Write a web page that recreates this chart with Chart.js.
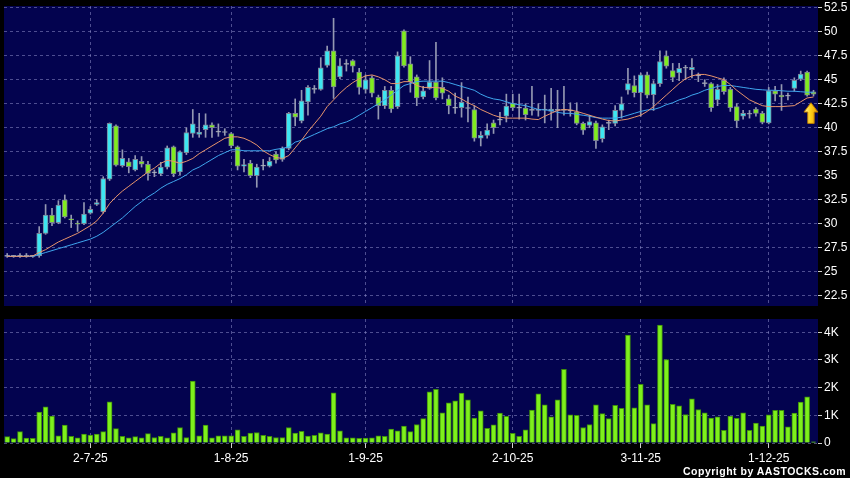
<!DOCTYPE html>
<html>
<head>
<meta charset="utf-8">
<script src="https://cdn.jsdelivr.net/npm/chart.js@4.4.1/dist/chart.umd.min.js"></script>
<style>
  body { margin: 0; background: #000; width: 850px; height: 478px; overflow: hidden; position: relative; }
  #priceBox { position: absolute; left: 0; top: 0; width: 850px; height: 312px; }
  #volBox { position: absolute; left: 0; top: 312px; width: 850px; height: 166px; }
  #copy { position: absolute; left: 683px; top: 465px; color: #fff; font: bold 10.5px "Liberation Sans", Arial, sans-serif; letter-spacing: 0.5px; white-space: nowrap; }
</style>
</head>
<body>
<div id="priceBox"><canvas id="priceChart"></canvas></div>
<div id="volBox"><canvas id="volChart"></canvas></div>
<div id="copy">Copyright by AASTOCKS.com Ltd.</div>
<script>
// daily candles (one value per trading day)
var opens = [26.6,26.6,26.6,26.6,26.6,26.64,29.0,30.9,30.1,32.5,30.45,30.0,30.0,31.1,32.0,31.25,34.65,40.2,36.05,36.45,
  35.6,36.5,36.2,35.3,35.2,35.9,38.0,35.4,37.4,39.4,39.3,39.8,40.3,39.55,39.5,39.4,38.0,36.0,36.3,35.0,
  36.0,36.0,37.25,36.7,37.85,41.5,40.7,42.7,44.0,44.0,46.5,48.0,45.3,46.6,47.0,45.8,44.0,45.2,43.2,42.3,
  43.9,42.2,50.1,46.65,45.3,43.2,44.1,44.75,44.2,43.0,42.05,42.1,42.0,41.9,38.9,39.2,40.5,40.8,41.2,42.55,
  42.05,42.05,41.8,41.8,41.85,41.7,41.8,41.8,41.75,41.65,40.45,40.25,40.5,38.85,40.45,40.45,41.8,43.9,44.4,43.65,
  45.5,43.45,44.6,47.5,45.95,45.7,46.2,46.05,45.4,44.6,44.6,42.9,44.95,44.0,42.2,41.2,41.4,41.95,41.5,40.5,
  43.85,43.4,43.3,44.1,45.05,45.8,43.75]
var highs = [26.9,26.7,26.9,26.9,26.7,29.7,32.0,31.6,32.4,33.0,30.9,30.3,32.2,31.8,32.5,34.9,40.5,40.3,37.7,36.8,
  37.1,37.0,36.5,35.6,36.4,38.1,38.1,37.6,40.0,41.9,41.5,41.45,40.5,40.4,39.9,39.5,38.1,36.7,36.6,36.2,
  36.7,36.9,37.5,38.0,41.6,43.0,43.9,44.4,44.4,47.3,48.5,51.4,47.2,47.1,47.1,46.2,45.5,45.4,43.4,44.3,
  44.3,47.9,50.2,47.4,45.5,44.3,47.0,48.9,45.2,43.4,43.6,44.7,43.2,42.3,39.6,40.4,40.8,41.6,43.5,43.5,
  43.5,42.5,44.3,42.5,43.4,44.1,43.9,44.3,42.6,42.6,40.6,41.3,40.7,40.3,40.8,42.3,43.2,46.2,45.4,45.7,
  45.8,44.9,48.0,48.0,46.7,46.7,46.5,47.2,45.7,45.0,44.7,44.5,45.2,44.2,42.5,41.8,41.8,42.1,41.7,44.2,
  44.3,44.5,43.6,45.2,45.9,45.9,43.9]
var lows = [26.5,26.5,26.5,26.5,26.5,26.5,28.9,29.8,30.0,30.6,29.6,29.2,29.9,31.0,31.9,31.1,34.5,36.0,35.9,35.3,
  35.5,35.9,34.55,34.9,35.0,35.7,34.9,35.1,37.2,39.0,39.0,39.0,39.0,39.1,39.2,37.9,35.6,35.4,34.8,33.8,
  35.6,35.9,36.3,36.5,37.7,40.2,40.5,41.3,43.6,43.9,46.3,43.05,45.1,45.9,45.8,43.5,43.6,43.2,40.9,42.0,
  41.6,42.0,46.3,43.7,42.3,43.0,44.0,42.9,43.0,41.45,41.5,41.1,40.6,38.6,38.1,38.9,39.4,40.3,40.6,41.8,
  40.9,40.8,41.3,41.2,40.5,40.8,40.0,41.3,41.2,40.3,39.3,40.0,37.85,38.5,39.8,40.2,41.0,43.5,43.2,41.2,
  43.1,41.8,44.3,46.2,44.8,44.9,45.0,45.2,44.8,44.3,41.7,42.3,43.5,41.7,40.0,40.9,41.0,41.2,40.4,40.4,
  42.8,41.8,42.9,43.8,44.9,43.3,43.3]
var closes = [26.6,26.6,26.6,26.6,26.6,29.0,30.9,30.1,31.95,30.7,30.4,29.95,31.0,31.5,32.2,34.7,40.45,36.1,36.8,35.95,
  36.7,36.2,35.25,35.3,35.9,37.9,35.2,37.5,39.5,40.4,39.55,40.3,40.0,39.55,39.5,38.1,36.0,36.15,35.0,35.9,
  36.0,36.5,36.65,37.85,41.5,41.1,42.8,44.2,44.0,46.25,48.0,44.25,46.45,46.6,46.4,44.2,45.0,43.6,42.3,43.9,
  41.95,47.5,46.45,44.8,43.1,43.85,44.75,43.1,43.6,42.3,42.05,42.65,42.0,38.9,39.2,39.75,40.0,40.8,42.25,42.1,
  42.05,41.35,41.8,41.8,41.85,41.95,41.8,41.8,41.75,40.45,39.75,40.65,38.65,40.1,40.45,41.8,42.5,44.6,43.65,45.5,
  43.4,44.6,46.9,46.4,45.25,46.2,46.2,46.3,45.4,44.6,42.1,44.0,43.75,42.1,40.7,41.5,41.4,41.5,40.55,43.85,
  43.5,43.2,43.3,44.95,45.6,43.4,43.5]
// volume in thousands
var volumes = [0.23,0.16,0.41,0.18,0.17,1.12,1.31,0.97,0.26,0.65,0.24,0.19,0.32,0.29,0.32,0.41,1.49,0.52,0.24,0.19,
  0.23,0.19,0.34,0.2,0.24,0.19,0.37,0.56,0.2,2.24,0.26,0.65,0.19,0.26,0.26,0.26,0.48,0.24,0.36,0.38,
  0.28,0.24,0.2,0.2,0.56,0.36,0.42,0.25,0.28,0.37,0.32,1.81,0.44,0.19,0.19,0.17,0.18,0.19,0.26,0.24,
  0.5,0.44,0.61,0.41,0.67,0.88,1.85,1.94,1.09,1.45,1.52,1.8,1.56,0.9,1.16,0.53,0.66,1.08,0.96,0.35,
  0.24,0.48,1.19,1.78,1.38,0.95,1.56,2.66,1.02,1.0,0.56,0.67,1.38,1.06,0.88,1.36,1.25,3.9,1.27,2.12,
  1.38,0.7,4.26,3.01,1.4,1.34,1.03,1.6,1.21,1.09,0.9,0.95,0.46,0.97,0.89,1.09,0.46,0.72,0.61,1.02,
  1.18,1.18,0.58,1.08,1.48,1.67,0.04]
// moving averages as drawn (short = orange, long = blue)
var maShort = [26.6,26.6,26.6,26.6,26.65,27.0,27.3,27.7,28.1,28.4,28.7,29.0,29.4,29.8,30.3,31.1,32.1,32.8,33.4,33.9,
  34.4,34.9,35.4,35.8,36.3,36.6,36.5,36.3,36.5,36.8,37.3,37.7,38.1,38.5,38.9,39.05,39.05,38.9,38.6,38.2,
  37.6,37.2,36.9,36.8,37.1,37.9,38.7,39.6,40.4,41.2,42.2,42.9,43.6,44.2,44.7,45.1,45.4,45.5,45.3,45.0,
  44.6,44.6,44.8,44.8,44.4,44.2,44.2,44.2,44.1,43.8,43.3,43.0,42.6,42.3,41.9,41.6,41.3,41.1,41.0,41.0,
  41.0,41.0,40.9,40.85,41.2,41.5,41.8,41.9,41.85,41.7,41.5,41.3,41.1,40.9,40.75,40.7,40.8,40.9,41.1,41.3,
  41.7,42.2,42.8,43.4,44.0,44.6,45.1,45.4,45.55,45.55,45.4,45.2,45.0,44.5,43.9,43.4,42.9,42.6,42.3,42.2,
  42.2,42.2,42.25,42.3,42.7,43.1,43.2]
var maLong = [26.6,26.6,26.6,26.6,26.6,26.8,27.0,27.2,27.4,27.6,27.8,28.0,28.2,28.4,28.7,29.1,29.6,30.1,30.6,31.2,
  31.8,32.3,32.8,33.2,33.7,34.1,34.4,34.7,35.1,35.6,35.9,36.3,36.7,37.1,37.4,37.7,37.7,37.6,37.6,37.6,
  37.6,37.6,37.75,37.85,38.0,38.5,38.7,39.0,39.3,39.6,39.9,40.1,40.4,40.6,40.9,41.3,41.7,42.1,42.5,42.9,
  43.4,43.9,44.4,44.6,44.8,44.85,44.85,44.85,44.85,44.7,44.5,44.3,44.1,43.9,43.5,43.2,43.0,42.9,42.7,42.5,
  42.4,42.3,42.1,41.9,41.85,41.8,41.6,41.5,41.5,41.4,41.3,41.2,41.05,41.0,41.0,41.0,41.1,41.3,41.5,41.7,
  41.85,41.9,42.1,42.4,42.6,42.9,43.1,43.4,43.6,43.9,44.1,44.3,44.4,44.4,44.3,44.2,44.1,44.0,43.95,43.9,
  43.9,43.85,43.8,43.8,43.75,43.7,43.7]

var tickIdx = [13, 35, 56, 79, 99, 119]
var tickText = ['2-7-25', '1-8-25', '1-9-25', '2-10-25', '3-11-25', '1-12-25']
var priceTicks = [22.5, 25, 27.5, 30, 32.5, 35, 37.5, 40, 42.5, 45, 47.5, 50, 52.5]
var volTicks = [0, 1, 2, 3, 4]
// marker arrow under the last candles (x in bar index, y in price)
var arrowMark = { x: 125.6, top: 42.6, bottom: 40.45 }

var upColor = '#3de6f2'
var downColor = '#80ec1e'
var flatColor = '#b4b8c8'
var gridColor = 'rgba(140,140,200,0.55)'
var fontFamily = '"Liberation Sans", Arial, sans-serif'

// colour of each body
var bodyColors = opens.map(function(o, i) {
  if (closes[i] > o) return upColor
  if (closes[i] < o) return downColor
  return flatColor
})

// navy fill behind the plotting area
var panelBg = {
  id: 'panelBg',
  beforeDraw: function(chart) {
    var a = chart.chartArea
    var ctx = chart.ctx
    ctx.save()
    ctx.fillStyle = '#03034f'
    ctx.fillRect(a.left, a.top, a.right - a.left, a.bottom - a.top)
    ctx.restore()
  }
}

// yellow up arrow
var arrowPlugin = {
  id: 'arrowPlugin',
  afterDatasetsDraw: function(chart) {
    var xs = chart.scales.x, ys = chart.scales.y, ctx = chart.ctx
    var cx = xs.getPixelForValue(arrowMark.x)
    var yt = ys.getPixelForValue(arrowMark.top)
    var yb = ys.getPixelForValue(arrowMark.bottom)
    var headH = (yb - yt) * 0.45
    var hw = 7, sw = 3.2
    ctx.save()
    var g = ctx.createLinearGradient(cx - hw, 0, cx + hw, 0)
    g.addColorStop(0, '#fff7a8')
    g.addColorStop(0.45, '#ffd21a')
    g.addColorStop(1, '#e89a00')
    ctx.beginPath()
    ctx.moveTo(cx, yt)
    ctx.lineTo(cx + hw, yt + headH)
    ctx.lineTo(cx + sw, yt + headH)
    ctx.lineTo(cx + sw, yb)
    ctx.lineTo(cx - sw, yb)
    ctx.lineTo(cx - sw, yt + headH)
    ctx.lineTo(cx - hw, yt + headH)
    ctx.closePath()
    ctx.fillStyle = g
    ctx.fill()
    ctx.strokeStyle = '#b87800'
    ctx.lineWidth = 1
    ctx.stroke()
    ctx.restore()
  }
}

function setTicks(list) {
  return function(scale) {
    scale.ticks = list.map(function(v) { return { value: v } })
  }
}

// fixed width for the right axis, no extra room for half labels
function fitRightAxis(s) {
  s.width = 32
  s.paddingTop = 0
  s.paddingBottom = 0
}

// price panel
new Chart(document.getElementById('priceChart'), {
  type: 'bar',
  data: {
    datasets: [
      {
        type: 'line', order: 0,
        data: maShort.map(function(v, i) { return { x: i, y: v } }),
        borderColor: '#e8946c', borderWidth: 1, pointRadius: 0, tension: 0
      },
      {
        type: 'line', order: 0,
        data: maLong.map(function(v, i) { return { x: i, y: v } }),
        borderColor: '#3fa6ee', borderWidth: 1, pointRadius: 0, tension: 0
      },
      {
        order: 1, grouped: false,
        data: opens.map(function(o, i) { return { x: i, y: [o, closes[i]] } }),
        backgroundColor: bodyColors,
        borderColor: '#7c8296', borderWidth: 1, borderSkipped: false,
        barThickness: 5, minBarLength: 1
      },
      {
        order: 2, grouped: false,
        data: lows.map(function(l, i) { return { x: i, y: [l, highs[i]] } }),
        backgroundColor: '#9498b2',
        barThickness: 1
      }
    ]
  },
  options: {
    responsive: true,
    maintainAspectRatio: false,
    animation: false,
    layout: { padding: { left: 4, top: 6, right: 0, bottom: 6 } },
    plugins: { legend: { display: false }, tooltip: { enabled: false } },
    scales: {
      x: {
        type: 'linear', min: -0.5, max: 126.7, offset: false,
        afterBuildTicks: setTicks(tickIdx),
        afterFit: function(s) { s.height = 0; s.paddingLeft = 0; s.paddingRight = 0 },
        ticks: { display: false },
        grid: { color: gridColor, drawTicks: false, offset: false },
        border: { display: false, dash: [3, 3] }
      },
      y: {
        position: 'right', min: 21.43, max: 52.68,
        afterBuildTicks: setTicks(priceTicks),
        afterFit: fitRightAxis,
        ticks: {
          color: '#ffffff', padding: 2,
          font: { family: fontFamily, size: 12 },
          callback: function(v) { return String(v) }
        },
        grid: { color: gridColor, tickColor: '#d0d0d0', tickLength: 4, tickBorderDash: [] },
        border: { display: false, dash: [3, 3] }
      }
    }
  },
  plugins: [panelBg, arrowPlugin]
})

// volume panel
new Chart(document.getElementById('volChart'), {
  type: 'bar',
  data: {
    datasets: [{
      data: volumes.map(function(v, i) { return { x: i, y: v } }),
      backgroundColor: '#7ef01c',
      borderColor: '#3e8e0c', borderWidth: 1,
      barThickness: 5
    }]
  },
  options: {
    responsive: true,
    maintainAspectRatio: false,
    animation: false,
    layout: { padding: { left: 4, top: 7, right: 0, bottom: 0 } },
    plugins: { legend: { display: false }, tooltip: { enabled: false } },
    scales: {
      x: {
        type: 'linear', min: -0.5, max: 126.7, offset: false,
        afterBuildTicks: setTicks(tickIdx),
        afterFit: function(s) { s.height = 35; s.paddingLeft = 0; s.paddingRight = 0 },
        ticks: {
          color: '#ffffff', padding: 3, maxRotation: 0, autoSkip: false,
          font: { family: fontFamily, size: 12 },
          callback: function(v) { return tickText[tickIdx.indexOf(v)] }
        },
        grid: { color: gridColor, tickColor: '#d0d0d0', tickLength: 5, tickBorderDash: [], offset: false },
        border: { display: false, dash: [3, 3] }
      },
      y: {
        position: 'right', min: 0, max: 4.48,
        afterBuildTicks: setTicks(volTicks),
        afterFit: fitRightAxis,
        ticks: {
          color: '#ffffff', padding: 2,
          font: { family: fontFamily, size: 12 },
          callback: function(v) { return v === 0 ? '0' : v + 'K' }
        },
        grid: { color: gridColor, tickColor: '#d0d0d0', tickLength: 4, tickBorderDash: [] },
        border: { display: false, dash: [3, 3] }
      }
    }
  },
  plugins: [panelBg]
})
</script>
</body>
</html>
